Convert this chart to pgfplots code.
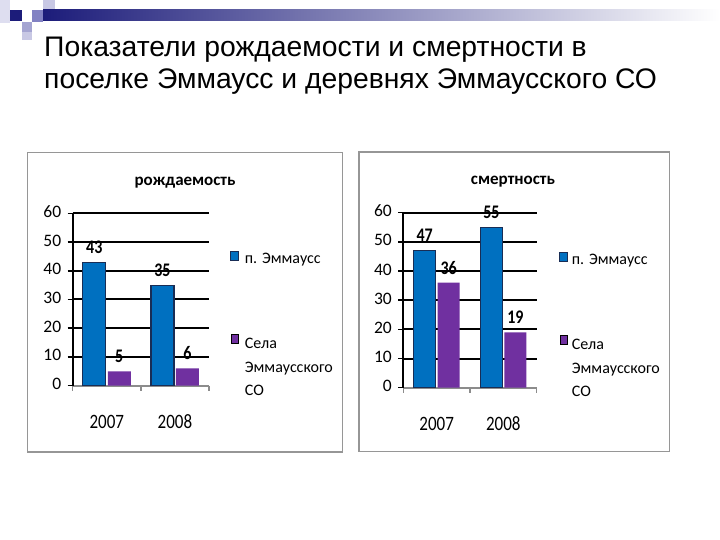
\documentclass[border=0pt]{standalone}
\usepackage{graphicx}
\usepackage{pgfplots}
\pgfplotsset{compat=1.18}
\usepackage{fontspec}
\setmainfont{Liberation Sans}
\newfontfamily\carlito{Carlito}
\definecolor{barblue}{RGB}{0,112,192}
\definecolor{barpurple}{RGB}{112,48,160}
\definecolor{bluedge}{RGB}{25,45,85}
\definecolor{navy}{RGB}{28,28,122}
\definecolor{pale}{RGB}{222,222,240}
\definecolor{lav}{RGB}{165,165,210}
\definecolor{midlav}{RGB}{130,130,195}
\definecolor{lightlav}{RGB}{200,200,228}
\definecolor{axisgray}{RGB}{140,140,140}
\definecolor{boxgray}{RGB}{150,150,150}

\pgfplotsset{
  chart/.style={
    ybar, scale only axis, enlargelimits=false,
    ymin=0, ymax=60, xmin=0.5, xmax=2.5,
    axis lines=left,
    axis line style={-},
    x axis line style={draw=axisgray, line width=2bp},
    y axis line style={draw=black, line width=2bp},
    ytick={10,20,...,60}, extra y ticks={0}, extra y tick style={grid=none},
    ymajorgrids, major grid style={black, line width=2bp},
    tick align=outside, major tick length=5bp, minor tick length=5bp,
    ytick style={draw=black, line width=1.5bp},
    xtick={1,2}, xticklabels={\scalebox{1}[1.2]{2007},\scalebox{1}[1.2]{2008}},
    major x tick style={draw=none},
    minor xtick={0.5,1.5,2.5},
    minor x tick style={draw=axisgray, line width=1.5bp},
    /pgf/number format/assume math mode=true,
    yticklabel style={font=\carlito\fontsize{17.5bp}{20bp}\selectfont, xshift=-3bp},
    typeset ticklabels with strut,
    xticklabel style={font=\carlito\fontsize{17bp}{20bp}\selectfont, anchor=base, yshift=-38bp},
    bar width=23bp,
    nodes near coords={\scalebox{1}[1.2]{\pgfmathprintnumber{\pgfplotspointmeta}}},
    every node near coord/.append style={font=\carlito\bfseries\fontsize{16bp}{18bp}\selectfont, black, yshift=5bp},
    title style={font=\carlito\bfseries\fontsize{17bp}{20bp}\selectfont, anchor=base, yshift=22bp},
    legend style={draw=none, fill=none, anchor=north west, inner sep=0pt,
      font=\carlito\fontsize{16bp}{23.5bp}\selectfont, row sep=63bp,
      nodes={inner sep=2bp},
      /tikz/every odd column/.style={column sep=4bp}},
    legend cell align=left,
  },
  legsq/.style={legend image code/.code={\draw[##1] (0bp,-1.5bp) rectangle (7.5bp,7.5bp);}},
}

\begin{document}
\begin{tikzpicture}
\begin{scope}[x=1bp,y=1bp]
\fill[white] (0,0) rectangle (720,540);
% decorative header
\fill[pale] (0,517) rectangle (10,540);
\fill[navy] (10,519) rectangle (21.5,530);
\fill[lightlav] (43,530) rectangle (55,540);
\fill[midlav] (32,518) rectangle (43,530);
\fill[lav] (22,508) rectangle (32,518);
\fill[lightlav] (22,500) rectangle (32,508);
\shade[left color=navy, right color=white] (43,519) rectangle (720,530);
\node[anchor=base west, inner sep=0pt, font=\fontsize{28.3bp}{32bp}\selectfont] at (44,483) {Показатели рождаемости и смертности в};
\node[anchor=base west, inner sep=0pt, font=\fontsize{28.3bp}{32bp}\selectfont] at (44,451) {поселке Эммаусс и деревнях Эммаусского СО};
\draw[boxgray, line width=1.3bp] (27.5,88) rectangle (342.5,387.5);
\draw[boxgray, line width=1.3bp] (359,88.5) rectangle (669.5,388);
\end{scope}

\begin{axis}[chart, at={(72.7bp,154.3bp)}, anchor=south west,
  width=136.3bp, height=172.4bp,
  title={рождаемость}, title style={at={(0.824,1)}},
  legend style={at={(1.154,0.781)}}]
\addplot[fill=barblue, draw=bluedge, line width=1.2bp, bar shift=-12.5bp, legsq] coordinates {(1,43) (2,35)};
\addplot[fill=barpurple, draw=none, bar shift=12.5bp, legsq] coordinates {(1,5) (2,6)};
\addlegendentry{п. Эммаусс}
\addlegendentry{\begin{tabular}[t]{@{}l@{}}Села\\Эммаусского\\СО\end{tabular}}
\end{axis}

\begin{axis}[chart, at={(403.3bp,152.3bp)}, anchor=south west,
  width=133.4bp, height=175bp, bar width=22bp,
  title={смертность}, title style={at={(0.822,1)}},
  legend style={at={(1.167,0.775)}, /tikz/every odd column/.style={column sep=2bp}}]
\addplot[fill=barblue, draw=bluedge, line width=1.2bp, bar shift=-12bp, legsq] coordinates {(1,47) (2,55)};
\addplot[fill=barpurple, draw=none, bar shift=12bp, legsq] coordinates {(1,36) (2,19)};
\addlegendentry{п. Эммаусс}
\addlegendentry{\begin{tabular}[t]{@{}l@{}}Села\\Эммаусского\\СО\end{tabular}}
\end{axis}
\end{tikzpicture}
\end{document}
